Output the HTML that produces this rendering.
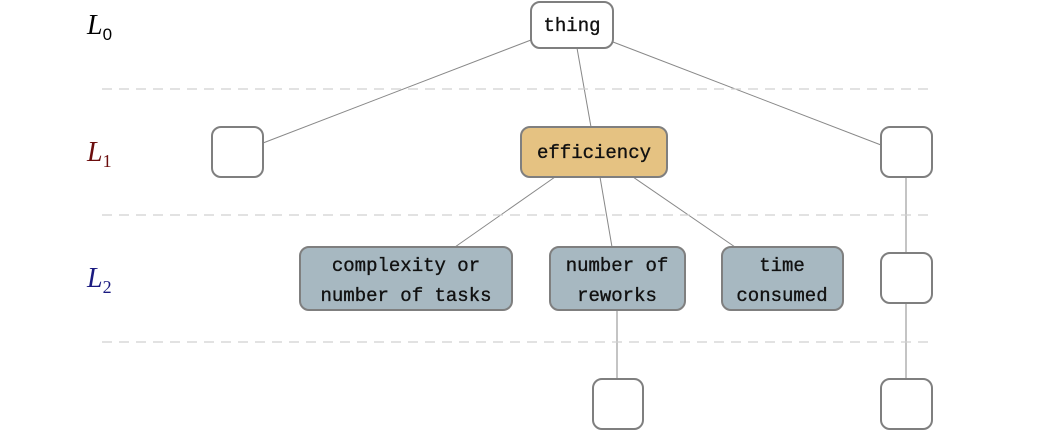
<!DOCTYPE html>
<html><head><meta charset="utf-8"><style>
html,body{margin:0;padding:0;background:#fff;width:1057px;height:431px;overflow:hidden}
svg text.m{font-family:"Liberation Mono",monospace;font-size:19px;fill:#111;stroke:#111;stroke-width:0.35;text-anchor:middle}
svg text.L{font-family:"Liberation Serif",serif;font-style:italic;font-size:28px}
</style></head><body>
<svg width="1057" height="431" xmlns="http://www.w3.org/2000/svg">
<g stroke="#888" stroke-width="1" fill="none">
<line x1="531" y1="40" x2="263" y2="143"/>
<line x1="577" y1="48" x2="591" y2="127"/>
<line x1="613" y1="42" x2="881" y2="145"/>
<line x1="555" y1="177" x2="455" y2="247"/>
<line x1="600" y1="177" x2="612" y2="247"/>
<line x1="633" y1="177" x2="735" y2="247"/>
<line x1="617" y1="310" x2="617" y2="379"/>
<line x1="906" y1="177" x2="906" y2="253"/>
<line x1="906" y1="303" x2="906" y2="379"/>
</g>
<g stroke="#d0d0d0" stroke-width="1.3" stroke-dasharray="10,7">
<line x1="102" y1="89" x2="932" y2="89"/>
<line x1="102" y1="215" x2="932" y2="215"/>
<line x1="102" y1="342" x2="932" y2="342"/>
</g>
<g stroke="#7f7f7f" stroke-width="2">
<rect x="531" y="2" width="82" height="46" rx="9" fill="#fff"/>
<rect x="212" y="127" width="51" height="50" rx="9" fill="#fff"/>
<rect x="521" y="127" width="146" height="50" rx="9" fill="#e5c282"/>
<rect x="881" y="127" width="51" height="50" rx="9" fill="#fff"/>
<rect x="300" y="247" width="212" height="63" rx="9" fill="#a7b8c1"/>
<rect x="550" y="247" width="135" height="63" rx="9" fill="#a7b8c1"/>
<rect x="722" y="247" width="121" height="63" rx="9" fill="#a7b8c1"/>
<rect x="881" y="253" width="51" height="50" rx="9" fill="#fff"/>
<rect x="593" y="379" width="50" height="50" rx="9" fill="#fff"/>
<rect x="881" y="379" width="51" height="50" rx="9" fill="#fff"/>
</g>
<text class="m" x="572" y="31">thing</text>
<text class="m" x="594" y="158">efficiency</text>
<text class="m" x="406" y="271">complexity or</text>
<text class="m" x="406" y="301">number of tasks</text>
<text class="m" x="617" y="271">number of</text>
<text class="m" x="617" y="301">reworks</text>
<text class="m" x="782" y="271">time</text>
<text class="m" x="782" y="301">consumed</text>
<text class="L" x="87" y="34" fill="#000">L<tspan dy="6" style="font-family:'Liberation Sans',sans-serif;font-style:normal;font-size:17px">0</tspan></text>
<text class="L" x="87" y="161" fill="#6b0d0d">L<tspan dy="6" style="font-family:'Liberation Serif',serif;font-style:normal;font-size:18px">1</tspan></text>
<text class="L" x="87" y="287" fill="#1a1a80">L<tspan dy="6" style="font-family:'Liberation Serif',serif;font-style:normal;font-size:18px">2</tspan></text>
</svg>
</body></html>
